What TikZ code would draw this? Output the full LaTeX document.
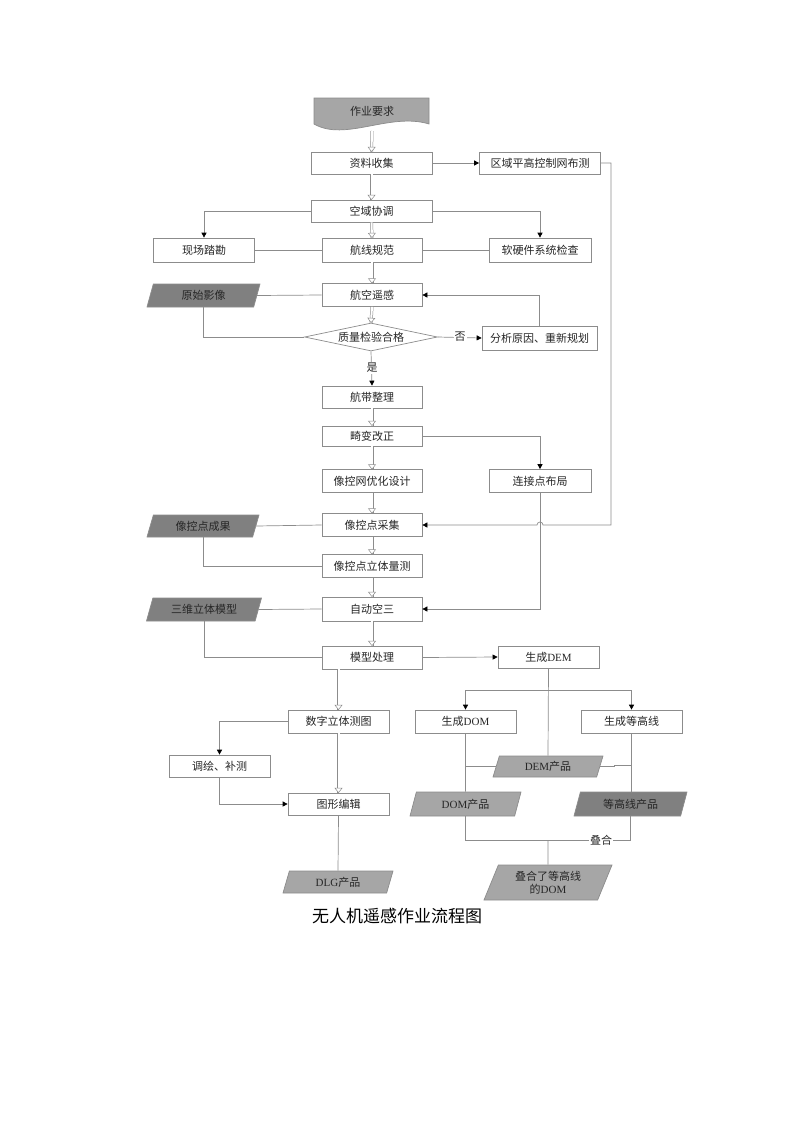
\documentclass[tikz,border=0pt]{standalone}
\usepackage{fontspec}
\setmainfont{Noto Sans CJK SC}
\newfontfamily\lat{Liberation Serif}
\usetikzlibrary{arrows.meta,shapes.geometric,calc,decorations.markings}
\definecolor{lgray}{RGB}{140,140,140}
\definecolor{darkfill}{RGB}{128,128,128}
\definecolor{midfill}{RGB}{166,166,166}
\begin{document}
\begin{tikzpicture}[x=1pt,y=-1pt,
  lc/.style={draw=lgray, line width=0.7pt},
  boxtxt/.style={font=\fontsize{11}{13}\selectfont, text=black!85},
  box/.style={lc, boxtxt, fill=white, minimum width=100pt, minimum height=23pt, inner sep=0pt},
  data/.style={lc, boxtxt, trapezium, trapezium left angle=58, trapezium right angle=122,
     trapezium stretches body, minimum width=113pt, minimum height=23pt, inner sep=0pt},
  dark/.style={data, fill=darkfill},
  mid/.style={data, fill=midfill},
  con/.style={lc},
  arr/.style={lc, -{Triangle[length=5pt,width=5pt,color=black]}},
  dbl/.style={draw=lgray, line width=0.5pt, double=white, double distance=2pt,
     postaction={decorate, decoration={markings, mark=at position 1 with {
       \draw[draw=lgray, fill=white, line width=0.5pt] (0pt,0pt) -- (-4.5pt,3.5pt) -- (-4.5pt,-3.5pt) -- cycle;}}}},
  lbl/.style={fill=white, inner sep=1pt, boxtxt}
]
\useasboundingbox (0,0) rectangle (794,1122);

% document shape
\draw[lc, fill=midfill] (314,98) -- (429,98) -- (429,124)
  .. controls (390,112) and (345,142) .. (314,124) -- cycle;
\node[boxtxt] (doc) at (372,111) {作业要求};
\coordinate (docb) at (372,131);

\node[box, minimum width=121pt, minimum height=22pt] (zl) at (371.5,163) {资料收集};
\node[box, minimum width=121pt, minimum height=22pt] (qy) at (540,163) {区域平高控制网布测};
\node[box, minimum width=121pt, minimum height=22pt] (ky) at (371.5,211) {空域协调};
\node[box, minimum width=101pt, minimum height=24pt] (xc) at (204,250) {现场踏勘};
\node[box, minimum height=24pt] (hx) at (372,250) {航线规范};
\node[box, minimum width=102pt, minimum height=24pt] (rj) at (540,250) {软硬件系统检查};
\node[dark] (ys) at (203.5,295.5) {原始影像};
\node[box] (hk) at (372,295) {航空遥感};
\node[lc, boxtxt, diamond, aspect=4.75, inner sep=0pt, minimum width=133pt, minimum height=28pt, fill=white] (zj) at (371,337) {质量检验合格};
\node[box, minimum width=115pt, minimum height=24pt] (fx) at (539.5,338) {分析原因、重新规划};
\node[box, minimum height=22pt] (hd) at (372,397) {航带整理};
\node[box, minimum height=20pt] (jb) at (372,436) {畸变改正};
\node[box] (yk) at (372,481) {像控网优化设计};
\node[box, minimum width=102pt] (lj) at (540,481) {连接点布局};
\node[dark, minimum width=112pt, minimum height=22pt] (ykcg) at (203,526) {像控点成果};
\node[box] (ykc) at (372,525) {像控点采集};
\node[box] (ykl) at (372,566) {像控点立体量测};
\node[dark, minimum width=115pt] (swm) at (204,609.5) {三维立体模型};
\node[box, minimum height=24pt] (zd) at (372,609) {自动空三};
\node[box] (mx) at (372,657.5) {模型处理};
\node[box, minimum width=101pt, minimum height=22pt] (dem) at (548.5,657) {生成{\lat DEM}};
\node[box, minimum width=101pt] (sz) at (338.5,721.5) {数字立体测图};
\node[box, minimum width=101pt] (dom) at (465.5,721.5) {生成{\lat DOM}};
\node[box, minimum width=101pt] (dgx) at (631.5,721.5) {生成等高线};
\node[box, minimum width=101pt, minimum height=22pt] (tb) at (219.5,766) {调绘、补测};
\node[box, minimum width=101pt, minimum height=22pt] (tx) at (338.5,804) {图形编辑};
\node[mid, minimum width=110pt, minimum height=21pt] (demp) at (548,766.5) {{\lat DEM}产品};
\node[mid, minimum width=111pt, minimum height=24pt] (domp) at (465.5,804) {{\lat DOM}产品};
\node[dark, minimum width=113pt, minimum height=24pt] (dgxp) at (630.5,804) {等高线产品};
\node[mid, minimum width=110pt, minimum height=22pt] (dlg) at (338,882) {{\lat DLG}产品};
\node[mid, minimum width=128pt, minimum height=35pt, align=center] (dd) at (548,882.5) {叠合了等高线\\的{\lat DOM}};

\node[font=\fontsize{17}{20}\selectfont, text=black] (cap) at (397,916) {无人机遥感作业流程图};

% connectors
\draw[dbl] (docb) -- (zl.north);
\draw[arr] (zl.east) -- (qy.west);
\draw[dbl] (zl.south) -- (ky.north);
\draw[arr] (ky.west) -| (xc.north);
\draw[arr] (ky.east) -| (rj.north);
\draw[dbl] (ky.south) -- (hx.north);
\draw[con] (xc.east) -- (hx.west);
\draw[con] (hx.east) -- (rj.west);
\draw[dbl] (hx.south) -- (hk.north);
\draw[con] (ys.east) -- (hk.west);
\draw[con] (ys.south) |- (zj.west);
\draw[dbl] (hk.south) -- (zj.north);
\draw[arr] (zj.east) -- (fx.west);
\node[lbl] (no) at (460,337) {否};
\draw[arr] (fx.north) |- (hk.east);
\draw[arr] (zj.south) -- (hd.north);
\node[lbl] (yes) at (372,368) {是};
\draw[dbl] (hd.south) -- (jb.north);
\draw[arr] (jb.east) -| (lj.north);
\draw[dbl] (jb.south) -- (yk.north);
\draw[dbl] (yk.south) -- (ykc.north);
\draw[con] (ykcg.east) -- (ykc.west);
\draw[con] (ykcg.south) |- (ykl.west);
\draw[dbl] (ykc.south) -- (ykl.north);
\draw[dbl] (ykl.south) -- (zd.north);
\coordinate (c1) at (611,525);
\draw[arr] (qy.east) -| (c1) -- (543,525) arc[start angle=0, end angle=-180, radius=3] -- (ykc.east);
\draw[arr] (lj.south) |- (zd.east);
\draw[con] (swm.east) -- (zd.west);
\draw[con] (swm.south) |- (mx.west);
\draw[dbl] (zd.south) -- (mx.north);
\draw[arr] (mx.east) -- (dem.west);
\draw[con] (dem.south) -- (demp.north);
\coordinate (br) at (548.5,690);
\draw[arr] (br) -| (dom.north);
\draw[arr] (br) -| (dgx.north);
\draw[dbl] (mx.south -| sz.north) -- (sz.north);
\draw[arr] (sz.west) -| (tb.north);
\draw[dbl] (sz.south) -- (tx.north);
\draw[arr] (tb.south) |- (tx.west);
\draw[con] (tx.south) -- (dlg.north);
\draw[con] (dom.south) -- (domp.north);
\draw[con] (demp.west) -- (demp.west -| dom.south);
\draw[con] (demp.east) -- ++(14,0) -- ++(0,-1.5) coordinate (t) -- (t -| dgx.south);
\draw[con] (dgx.south) -- (dgx.south |- dgxp.north);
\coordinate (mg) at (548,840);
\draw[con] (domp.south) |- (mg) -| (dgxp.south);
\draw[con] (mg) -- (dd.north);
\node[lbl] (dh) at (601,840) {叠合};
\end{tikzpicture}
\end{document}
